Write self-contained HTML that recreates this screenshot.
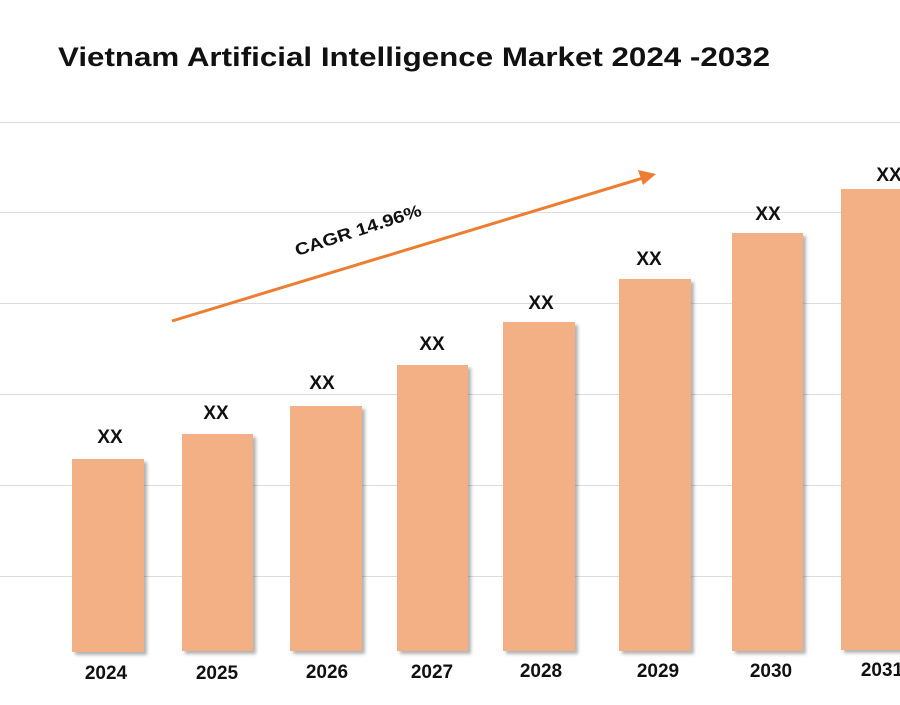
<!DOCTYPE html>
<html><head><style>
body{margin:0;background:#fff;}
svg text{font-family:"Liberation Sans",sans-serif;font-weight:bold;fill:#111;}
</style></head><body>
<svg width="900" height="700" xmlns="http://www.w3.org/2000/svg">
<defs><filter id="s" x="-10%" y="-10%" width="130%" height="130%"><feDropShadow dx="3" dy="3" stdDeviation="1.5" flood-color="#000" flood-opacity="0.3"/></filter></defs>
<text x="58" y="66" font-size="27" textLength="712" lengthAdjust="spacingAndGlyphs">Vietnam Artificial Intelligence Market 2024 -2032</text>
<g stroke="#dcdcdc" stroke-width="1">
<line x1="0" x2="900" y1="122.5" y2="122.5"/><line x1="0" x2="900" y1="212.5" y2="212.5"/>
<line x1="0" x2="900" y1="303.5" y2="303.5"/><line x1="0" x2="900" y1="394.5" y2="394.5"/>
<line x1="0" x2="900" y1="485.5" y2="485.5"/><line x1="0" x2="900" y1="576.5" y2="576.5"/>
</g>
<g fill="#f2b084" filter="url(#s)">
<rect x="72" y="459" width="72" height="193"/>
<rect x="182" y="434" width="71" height="217"/>
<rect x="290" y="406" width="72" height="245"/>
<rect x="397" y="365" width="71" height="286"/>
<rect x="503" y="322" width="72" height="329"/>
<rect x="619" y="279" width="72" height="372"/>
<rect x="732" y="233" width="71" height="418"/>
<rect x="841" y="189" width="72" height="461"/>
</g>
<g font-size="19" text-anchor="middle">
<text x="110" y="443">XX</text><text x="216" y="419">XX</text><text x="322" y="389">XX</text>
<text x="432" y="350">XX</text><text x="541" y="309">XX</text><text x="649" y="265">XX</text>
<text x="768" y="220">XX</text><text x="889" y="181">XX</text>
<text x="106" y="679">2024</text><text x="217" y="679">2025</text><text x="327" y="678">2026</text>
<text x="432" y="678">2027</text><text x="541" y="677">2028</text><text x="658" y="677">2029</text>
<text x="771" y="677">2030</text><text x="882" y="676">2031</text>
</g>
<line x1="172" y1="321" x2="643" y2="178" stroke="#ed7d31" stroke-width="3"/>
<polygon points="656,174 638,170 643,185" fill="#ed7d31"/>
<text x="358" y="236" font-size="17" text-anchor="middle" textLength="132" lengthAdjust="spacingAndGlyphs" transform="rotate(-18 358 230)">CAGR 14.96%</text>
</svg>
</body></html>
